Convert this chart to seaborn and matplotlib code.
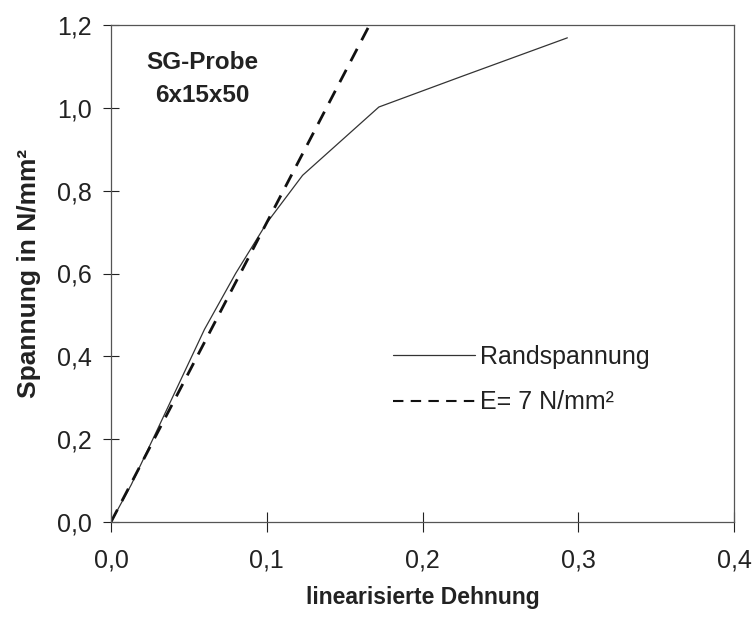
import numpy as np
import pandas as pd
import matplotlib
matplotlib.use("Agg")
import matplotlib.pyplot as plt
from matplotlib.ticker import FuncFormatter
from matplotlib.lines import Line2D
import seaborn as sns

# --- data ---
rand_x = [0.0, 0.013, 0.03, 0.06, 0.08, 0.100, 0.123, 0.172, 0.226, 0.293]
rand_y = [0.0, 0.090, 0.225, 0.465, 0.600, 0.722, 0.837, 1.002, 1.077, 1.169]
e_x = [0.0, 0.166]
e_y = [0.0, 1.2]
x_ticks = [0.0, 0.1, 0.2, 0.3, 0.4]
y_ticks = [0.0, 0.2, 0.4, 0.6, 0.8, 1.0, 1.2]
label_rand = "Randspannung"
label_e = "E= 7 N/mm²"
note_lines = ["SG-Probe", "6x15x50"]

sns.set_theme(style="white")
plt.rcParams['font.family'] = ['Liberation Sans', 'DejaVu Sans']

fig = plt.figure(figsize=(7.56, 6.18), dpi=100)
ax = fig.add_axes([111/756, (618-522)/618, (734-111)/756, (522-25)/618])

df_r = pd.DataFrame({"x": rand_x, "y": rand_y})
df_e = pd.DataFrame({"x": e_x, "y": e_y})

sns.lineplot(data=df_r, x="x", y="y", ax=ax, color="#333333", linewidth=0.9,
             sort=False, estimator=None)
sns.lineplot(data=df_e, x="x", y="y", ax=ax, color="#111111", linewidth=2.0,
             sort=False, estimator=None)
ax.lines[-1].set_dashes([5, 3.5])

ax.set_xlim(0, 0.4)
ax.set_ylim(0, 1.2)
ax.set_xticks(x_ticks)
ax.set_yticks(y_ticks)
fmt = FuncFormatter(lambda v, p: f"{v:.1f}".replace('.', ','))
ax.xaxis.set_major_formatter(fmt)
ax.yaxis.set_major_formatter(fmt)
ax.tick_params(axis='x', direction='inout', length=14, width=0.8, pad=12,
               labelsize=18, colors='#222222', bottom=True)
ax.tick_params(axis='y', direction='inout', length=12, width=0.8, pad=8,
               labelsize=18, colors='#222222', left=True)
for s in ax.spines.values():
    s.set_color('#555555')
    s.set_linewidth(0.9)

ax.set_xlabel("linearisierte Dehnung", fontsize=16.5, fontweight='bold',
              labelpad=10, color='#222222')
ax.set_ylabel("Spannung in N/mm²", fontsize=19, fontweight='bold',
              labelpad=11, color='#222222')

ax.text(0.0584, 1.11, note_lines[0], fontsize=17.5, fontweight='bold',
        ha='center', va='center', color='#222222')
ax.text(0.0584, 1.03, note_lines[1], fontsize=17.5, fontweight='bold',
        ha='center', va='center', color='#222222')

handles = [Line2D([], [], color="#333333", linewidth=0.9),
           Line2D([], [], color="#111111", linewidth=1.5, dashes=[5, 3.5])]
leg = ax.legend(handles, [label_rand, label_e], loc='center left',
                bbox_to_anchor=(0.4165, 0.286), frameon=False, fontsize=18,
                handlelength=3.3, handletextpad=0.2, labelspacing=0.85)
for t in leg.get_texts():
    t.set_color('#222222')

fig.savefig("out.png", dpi=100)
